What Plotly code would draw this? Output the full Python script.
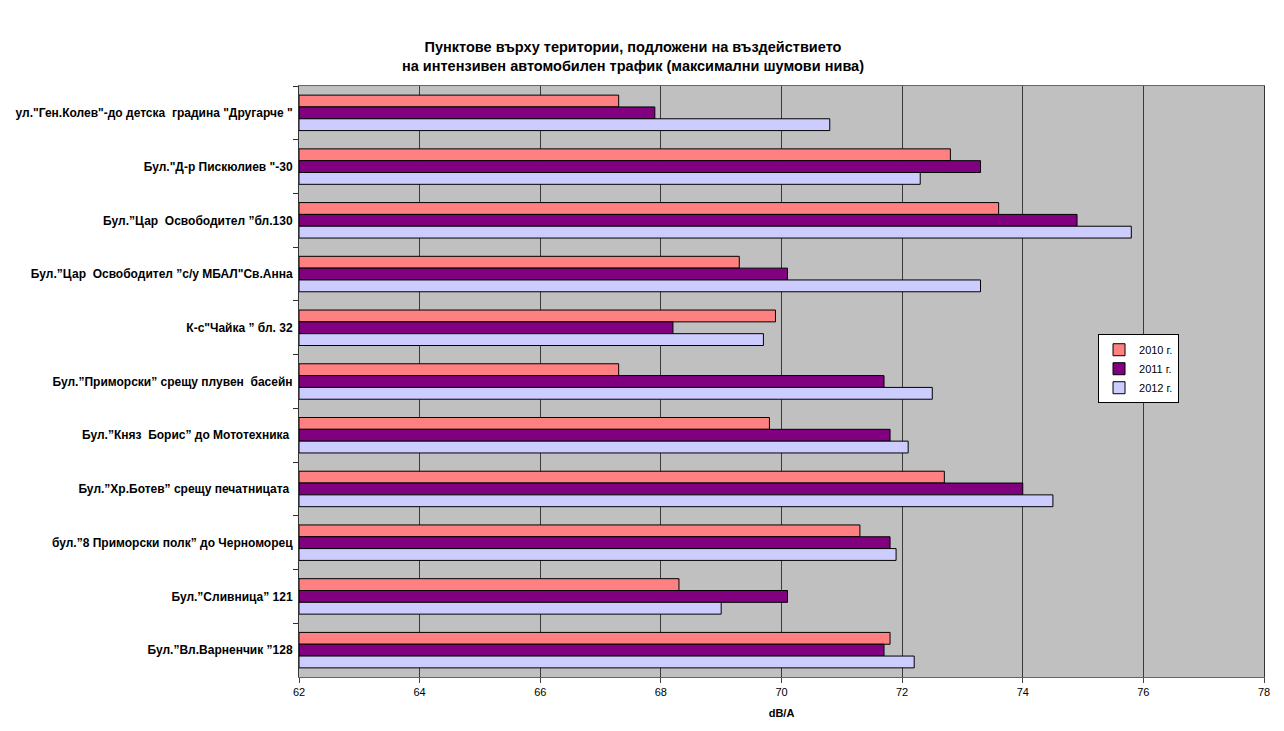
import plotly.graph_objects as go

categories = [
    'ул."Ген.Колев"-до детска  градина "Другарче "',
    'Бул."Д-р Пискюлиев "-30',
    'Бул.”Цар  Освободител ”бл.130',
    'Бул.”Цар  Освободител ”с/у МБАЛ"Св.Анна',
    'К-с"Чайка ” бл. 32',
    'Бул.”Приморски” срещу плувен  басейн',
    'Бул.”Княз  Борис” до Мототехника ',
    'Бул.”Хр.Ботев” срещу печатницата ',
    'бул.”8 Приморски полк” до Черноморец',
    'Бул.”Сливница” 121',
    'Бул.”Вл.Варненчик ”128',
]
series_names = ["2010 г.", "2011 г.", "2012 г."]
v2010 = [67.3, 72.8, 73.6, 69.3, 69.9, 67.3, 69.8, 72.7, 71.3, 68.3, 71.8]
v2011 = [67.9, 73.3, 74.9, 70.1, 68.2, 71.7, 71.8, 74.0, 71.8, 70.1, 71.7]
v2012 = [70.8, 72.3, 75.8, 73.3, 69.7, 72.5, 72.1, 74.5, 71.9, 69.0, 72.2]
colors = ["#FF8080", "#800080", "#CCCCFF"]
x_ticks = [62, 64, 66, 68, 70, 72, 74, 76, 78]

fig = go.Figure()
for name, vals, col in zip(series_names, [v2010, v2011, v2012], colors):
    fig.add_trace(go.Bar(
        y=categories, x=[v - 62 for v in vals], base=62, orientation="h",
        name=name, marker=dict(color=col, line=dict(color="black", width=1)),
    ))

fig.update_layout(
    width=1284, height=731,
    margin=dict(l=299, r=20, t=86, b=54, autoexpand=False),
    paper_bgcolor="white", plot_bgcolor="#C0C0C0",
    barmode="group", bargap=0.34, bargroupgap=0,
    font=dict(family="Liberation Sans, Arial", color="black"),
    title=dict(
        text="Пунктове върху територии, подложени на въздействието<br>на интензивен автомобилен трафик (максимални шумови нива)",
        x=0.493, xanchor="center", y=0.929, yanchor="top",
        font=dict(size=14.5, family="Liberation Sans, Arial", weight="bold"),
    ),
    legend=dict(
        x=0.828, y=0.58, xanchor="left", yanchor="top",
        bgcolor="white", bordercolor="black", borderwidth=1,
        font=dict(size=11, family="Liberation Sans, Arial"),
        itemwidth=30, tracegroupgap=0,
    ),
    xaxis=dict(
        range=[62, 78], tickvals=x_ticks, ticktext=[str(t) for t in x_ticks],
        showgrid=True, gridcolor="#3a3a3a", gridwidth=1,
        showline=True, linecolor="#666666", linewidth=1, mirror=True,
        ticks="outside", ticklen=5, tickcolor="#444444",
        tickfont=dict(size=11, family="Liberation Sans, Arial"),
        title=dict(text="<b>dB/A</b>", font=dict(size=11, family="Liberation Sans, Arial"), standoff=12),
        zeroline=False, automargin=False,
    ),
    yaxis=dict(
        autorange="reversed", type="category",
        showline=True, linecolor="#333333", linewidth=1, mirror=True,
        ticks="outside", ticklen=5, tickson="boundaries", tickcolor="#333333",
        tickfont=dict(size=12, family="Liberation Sans, Arial", weight="bold"),
        ticklabelstandoff=3,
        showgrid=False, automargin=False,
    ),
)

fig.write_html("out.html", config={"displayModeBar": False},
               post_script="document.body.style.margin='0';")
